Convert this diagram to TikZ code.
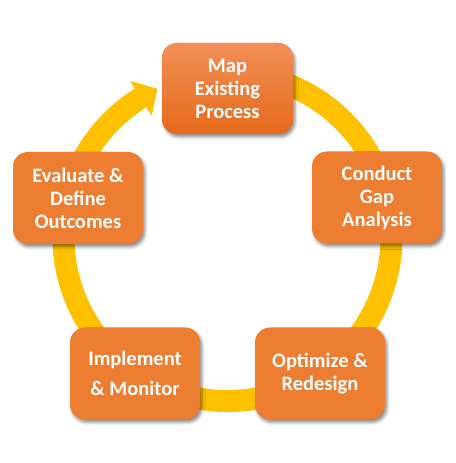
\documentclass[tikz,border=0pt]{standalone}
\usepackage{fontspec}
\setmainfont{Carlito}
\usetikzlibrary{calc,shadows.blur}
\definecolor{ringyellow}{HTML}{FFC000}
\definecolor{boxorange}{HTML}{ED7D31}
\definecolor{maptop}{HTML}{F18F58}
\definecolor{mapbot}{HTML}{E66A1A}
\tikzset{
  stagebox/.style={rounded corners=15pt, fill=boxorange, minimum width=130pt, minimum height=92pt,
    align=center, text=white, font=\fontsize{20.5}{23}\selectfont\bfseries, inner sep=0pt,
    blur shadow={shadow xshift=2pt, shadow yshift=-3pt, shadow blur radius=3pt, shadow opacity=45}},
  ring/.style={draw=ringyellow, line width=22pt},
  headtri/.style={fill=ringyellow}
}
\begin{document}
\begin{tikzpicture}[x=1pt,y=1pt]
\useasboundingbox (0,0) rectangle (455,463);
\coordinate (c) at (227.5,226);
% ring with arrow
\draw[ring] (c) ++(80:164) arc[start angle=80, end angle=-238.3, radius=164];
\fill[headtri] ($(c)+(122:143)$) -- ($(c)+(122:184)$) -- ($(c)+(115.3:164)$) -- cycle;
% boxes
\node[stagebox, minimum width=131pt, minimum height=91pt, top color=maptop, bottom color=mapbot] (map) at (227.5,374.5) {Map\\Existing\\Process};
\node[stagebox] (gap) at (377,265.5) {Conduct\\Gap\\Analysis};
\node[stagebox] (opt) at (320,89.5) {Optimize \&\\Redesign};
\node[stagebox] (impl) at (135,89.5) {Implement\\[7pt]\& Monitor};
\node[stagebox] (eval) at (78,265) {Evaluate \&\\Define\\Outcomes};
\end{tikzpicture}
\end{document}
